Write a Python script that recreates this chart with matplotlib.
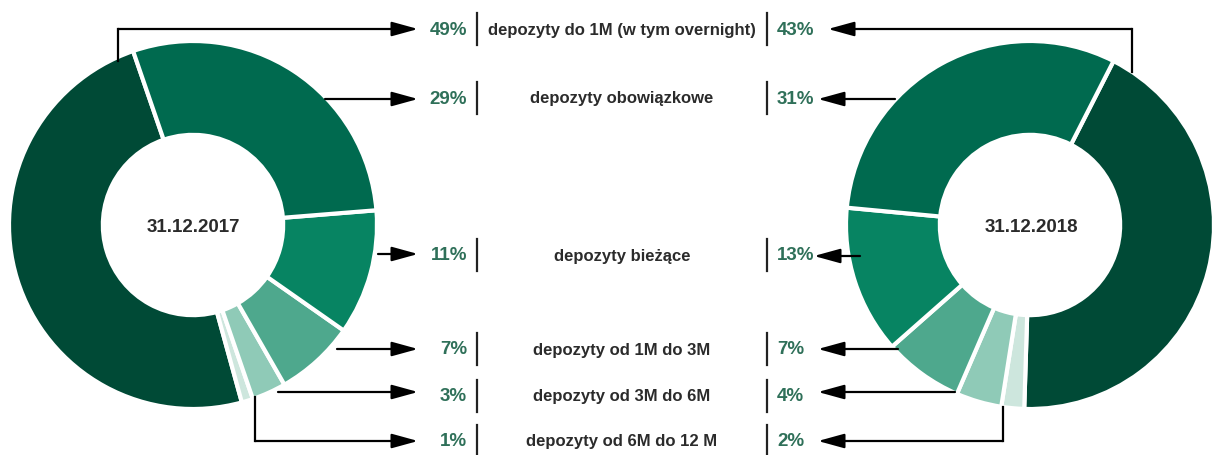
import matplotlib
matplotlib.use("Agg")
import matplotlib.pyplot as plt

# dane
kategorie = [
    "depozyty do 1M (w tym overnight)",
    "depozyty obowiązkowe",
    "depozyty bieżące",
    "depozyty od 1M do 3M",
    "depozyty od 3M do 6M",
    "depozyty od 6M do 12 M",
]
udzialy_2017 = [49, 29, 11, 7, 3, 1]
udzialy_2018 = [43, 31, 13, 7, 4, 2]
daty = ["31.12.2017", "31.12.2018"]

kolory = ["#004a36", "#006a4f", "#078462", "#4ea88d", "#8fcab7", "#cde6dd"]
kolor_proc = "#2f7059"
kolor_tekst = "#2b2b2b"
fonty = ["Liberation Sans", "DejaVu Sans"]

W, H = 1216, 456


def Y(py):
    return H - py


fig = plt.figure(figsize=(W / 100, H / 100), dpi=100)
ax = fig.add_axes([0, 0, 1, 1])

R = 184
szer = 0.51

# kolejnosc wycinkow wokol pierscienia
kolejnosc = [0, 5, 4, 3, 2, 1]
ax.pie([udzialy_2017[i] for i in kolejnosc],
       colors=[kolory[i] for i in kolejnosc],
       center=(193, Y(226)), radius=R, startangle=109, counterclock=True,
       wedgeprops=dict(width=R * szer, edgecolor="white", linewidth=3),
       frame=True)
ax.pie([udzialy_2018[i] for i in kolejnosc],
       colors=[kolory[i] for i in kolejnosc],
       center=(1030, Y(226)), radius=R, startangle=63, counterclock=False,
       wedgeprops=dict(width=R * szer, edgecolor="white", linewidth=3),
       frame=True)
ax.set_xlim(0, W)
ax.set_ylim(0, H)
ax.axis("off")

ax.text(193, Y(228), daty[0], ha="center", va="center", fontsize=13.5,
        fontweight="bold", color=kolor_tekst, family=fonty)
ax.text(1031, Y(228), daty[1], ha="center", va="center", fontsize=13.5,
        fontweight="bold", color=kolor_tekst, family=fonty)

wiersze = [30, 99, 256, 350, 397, 442]
for k, py in enumerate(wiersze):
    ax.text(467, Y(py), f"{udzialy_2017[k]}%", ha="right", va="center",
            fontsize=13.5, fontweight="bold", color=kolor_proc, family=fonty)
    ax.text(777, Y(py), f"{udzialy_2018[k]}%", ha="left", va="center",
            fontsize=13.5, fontweight="bold", color=kolor_proc, family=fonty)
    ax.text(622, Y(py), kategorie[k], ha="center", va="center",
            fontsize=12, fontweight="bold", color=kolor_tekst, family=fonty)
    ax.plot([477, 477], [Y(py - 16), Y(py + 16)], color="#222222", lw=1.6)
    ax.plot([767, 767], [Y(py - 16), Y(py + 16)], color="#222222", lw=1.6)

styl = dict(arrowstyle="-|>,head_length=0.8,head_width=0.22",
            color="black", lw=1.6, shrinkA=0, shrinkB=0, mutation_scale=20)

# strzalki lewe: (start x, start y, wiersz y, lamana?)
lewe = [(118, 62, 30, True), (325, 100, 100, False), (378, 255, 255, False),
        (337, 350, 350, False), (278, 393, 393, False), (255, 398, 442, True)]
for x0, y0, yr, lam in lewe:
    if lam:
        ax.plot([x0, x0], [Y(y0), Y(yr)], color="black", lw=1.6)
    ax.annotate("", xy=(418, Y(yr)), xytext=(x0, Y(yr)), arrowprops=styl)

prawe = [(1132, 73, 30, True, 828), (895, 100, 100, False, 818),
         (860, 257, 257, False, 814), (898, 350, 350, False, 818),
         (955, 393, 393, False, 818), (1003, 408, 442, True, 818)]
for x0, y0, yr, lam, xk in prawe:
    if lam:
        ax.plot([x0, x0], [Y(y0), Y(yr)], color="black", lw=1.6)
    ax.annotate("", xy=(xk, Y(yr)), xytext=(x0, Y(yr)), arrowprops=styl)

fig.savefig("out.png", dpi=100, facecolor="white")
